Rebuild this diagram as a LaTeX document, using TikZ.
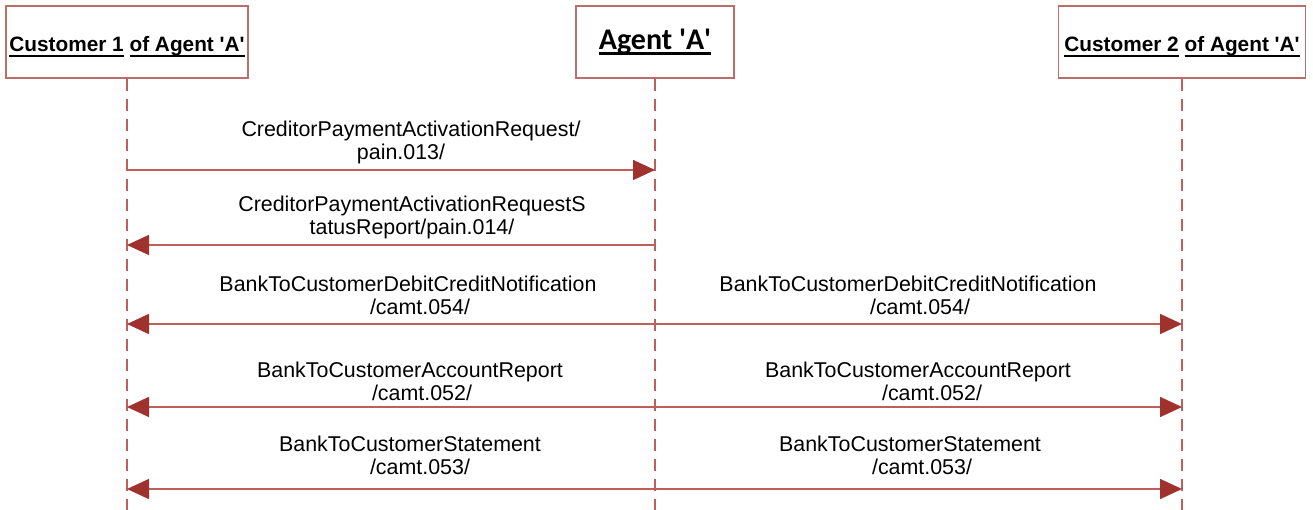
\documentclass[tikz,border=0pt]{standalone}
\usepackage{fontspec}
\setmainfont{Liberation Sans}
\newfontfamily\agentfont{Carlito}
\usetikzlibrary{arrows.meta,positioning,calc}
\definecolor{boxcol}{RGB}{185,110,105}
\definecolor{linecol}{RGB}{190,95,90}
\definecolor{headcol}{RGB}{160,50,45}
\newcommand{\hdul}[1]{\setbox0\hbox{#1}\rlap{\rule[-5pt]{\wd0}{2.2pt}}\box0\relax}
\newcommand{\q}{\textquotesingle}
\tikzset{
  party box/.style={draw=boxcol,line width=1.6pt,minimum height=72pt,inner sep=0pt,font=\bfseries\fontsize{20.8}{24}\selectfont},
  life line/.style={draw=linecol,line width=1.4pt,dash pattern=on 12pt off 8pt},
  msg arrow/.style={draw=linecol,line width=1.6pt,-{Triangle[length=22pt,width=20pt,fill=headcol,color=headcol]}},
  msg label/.style={align=center,font=\fontsize{21.4}{23}\selectfont,inner sep=0pt}
}
\begin{document}
\begin{tikzpicture}[x=1pt,y=-1pt]
  \useasboundingbox (0,0) rectangle (1313,510);
  % parties
  \node[party box,minimum width=242pt] (cust1) at (127,42) {\smash{\raisebox{-10pt}{\hdul{Customer 1} \hdul{of Agent \q A\q}}}};
  \node[party box,minimum width=158pt,font=\agentfont\bfseries\fontsize{30}{32}\selectfont] (agent) at (655,42) {\hdul{Agent \q A\q}};
  \node[party box,minimum width=247pt] (cust2) at (1182,42) {\smash{\raisebox{-10pt}{\hdul{Customer 2} \hdul{of Agent \q A\q}}}};
  % lifelines
  \foreach \p in {cust1,agent,cust2} {
    \coordinate (\p end) at (\p.south |- 0,510);
    \draw[life line] (\p.south) -- (\p end);
  }
  \foreach \n/\y in {1/170,2/245,3/324,4/407,5/489} {
    \coordinate (cust1-\n) at (cust1.south |- 0,\y);
    \coordinate (agent-\n) at (agent.south |- 0,\y);
    \coordinate (cust2-\n) at (cust2.south |- 0,\y);
  }
  % messages
  \draw[msg arrow] (cust1-1) -- (agent-1);
  \node[msg label] (m1) at (411,142) {CreditorPaymentActivationRequest/\\pain.013/\hspace*{20pt}};
  \draw[msg arrow] (agent-2) -- (cust1-2);
  \node[msg label] (m2) at (412,217) {CreditorPaymentActivationRequestS\\tatusReport/pain.014/};
  \foreach \n in {3,4,5} {
    \draw[msg arrow] (agent-\n) -- (cust1-\n);
    \draw[msg arrow] (agent-\n) -- (cust2-\n);
  }
  \node[msg label] (m3a) at (408,295) {BankToCustomerDebitCreditNotification\\\hspace*{24pt}/camt.054/};
  \node[msg label] (m3b) at (908,295) {BankToCustomerDebitCreditNotification\\\hspace*{24pt}/camt.054/};
  \node[msg label] (m4a) at (410,381) {BankToCustomerAccountReport\\\hspace*{24pt}/camt.052/};
  \node[msg label] (m4b) at (918,381) {BankToCustomerAccountReport\\\hspace*{28pt}/camt.052/};
  \node[msg label] (m5a) at (410,455) {BankToCustomerStatement\\\hspace*{20pt}/camt.053/};
  \node[msg label] (m5b) at (910,455) {BankToCustomerStatement\\\hspace*{24pt}/camt.053/};
\end{tikzpicture}
\end{document}
